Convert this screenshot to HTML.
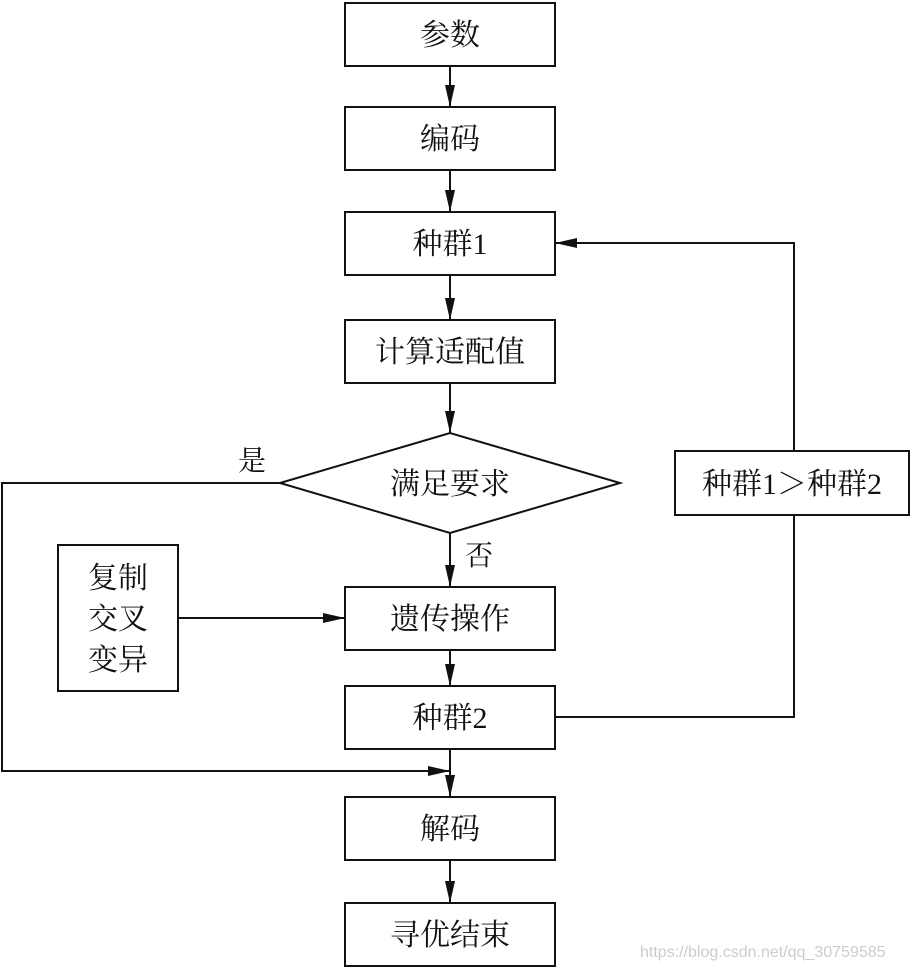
<!DOCTYPE html>
<html><head><meta charset="utf-8"><style>
html,body{margin:0;padding:0;background:#fff;}
svg{display:block}
text{font-family:"Liberation Serif","Noto Serif CJK SC",serif;font-size:30px;fill:#111;}
</style></head><body>
<svg width="913" height="969" viewBox="0 0 913 969" xmlns="http://www.w3.org/2000/svg">
<defs><marker id="a" markerWidth="22" markerHeight="10" refX="22" refY="5" orient="auto" markerUnits="userSpaceOnUse"><path d="M0,0 L22,5 L0,10 Z" fill="#111"/></marker></defs>
<g fill="#fff" stroke="#111" stroke-width="2">
<rect x="345" y="3" width="210" height="63"/>
<rect x="345" y="107" width="210" height="63"/>
<rect x="345" y="212" width="210" height="63"/>
<rect x="345" y="320" width="210" height="63"/>
<polygon points="280,483 450,433 620,483 450,533"/>
<rect x="345" y="587" width="210" height="63"/>
<rect x="345" y="686" width="210" height="63"/>
<rect x="345" y="797" width="210" height="63"/>
<rect x="345" y="903" width="210" height="63"/>
<rect x="58" y="545" width="120" height="146"/>
<rect x="675" y="451" width="234" height="64"/>
</g>
<g stroke="#111" stroke-width="2" fill="none">
<line x1="450" y1="66" x2="450" y2="107" marker-end="url(#a)"/>
<line x1="450" y1="170" x2="450" y2="212" marker-end="url(#a)"/>
<line x1="450" y1="275" x2="450" y2="320" marker-end="url(#a)"/>
<line x1="450" y1="383" x2="450" y2="433" marker-end="url(#a)"/>
<line x1="450" y1="533" x2="450" y2="587" marker-end="url(#a)"/>
<line x1="450" y1="650" x2="450" y2="686" marker-end="url(#a)"/>
<line x1="450" y1="749" x2="450" y2="797" marker-end="url(#a)"/>
<line x1="450" y1="860" x2="450" y2="903" marker-end="url(#a)"/>
<line x1="178" y1="618" x2="345" y2="618" marker-end="url(#a)"/>
<polyline points="280,483 2,483 2,771 450,771" marker-end="url(#a)"/>
<polyline points="555,717 794,717 794,515"/>
<polyline points="794,451 794,243 555,243" marker-end="url(#a)"/>
</g>
<g text-anchor="middle">
<text x="450" y="45">参数</text>
<text x="450" y="149">编码</text>
<text x="450" y="254">种群1</text>
<text x="450" y="362">计算适配值</text>
<text x="450" y="494">满足要求</text>
<text x="450" y="629">遗传操作</text>
<text x="450" y="728">种群2</text>
<text x="450" y="839">解码</text>
<text x="450" y="945">寻优结束</text>
<text x="118" y="588">复制</text>
<text x="118" y="629">交叉</text>
<text x="118" y="670">变异</text>
<text x="792" y="494">种群1＞种群2</text>
<text x="252" y="470" style="font-size:28px">是</text>
<text x="479" y="565" style="font-size:28px">否</text>
</g>
<text x="640" y="957" style="font-family:'Liberation Sans',sans-serif;font-size:16px;fill:#ccc">https://blog.csdn.net/qq_30759585</text>
</svg>
</body></html>
